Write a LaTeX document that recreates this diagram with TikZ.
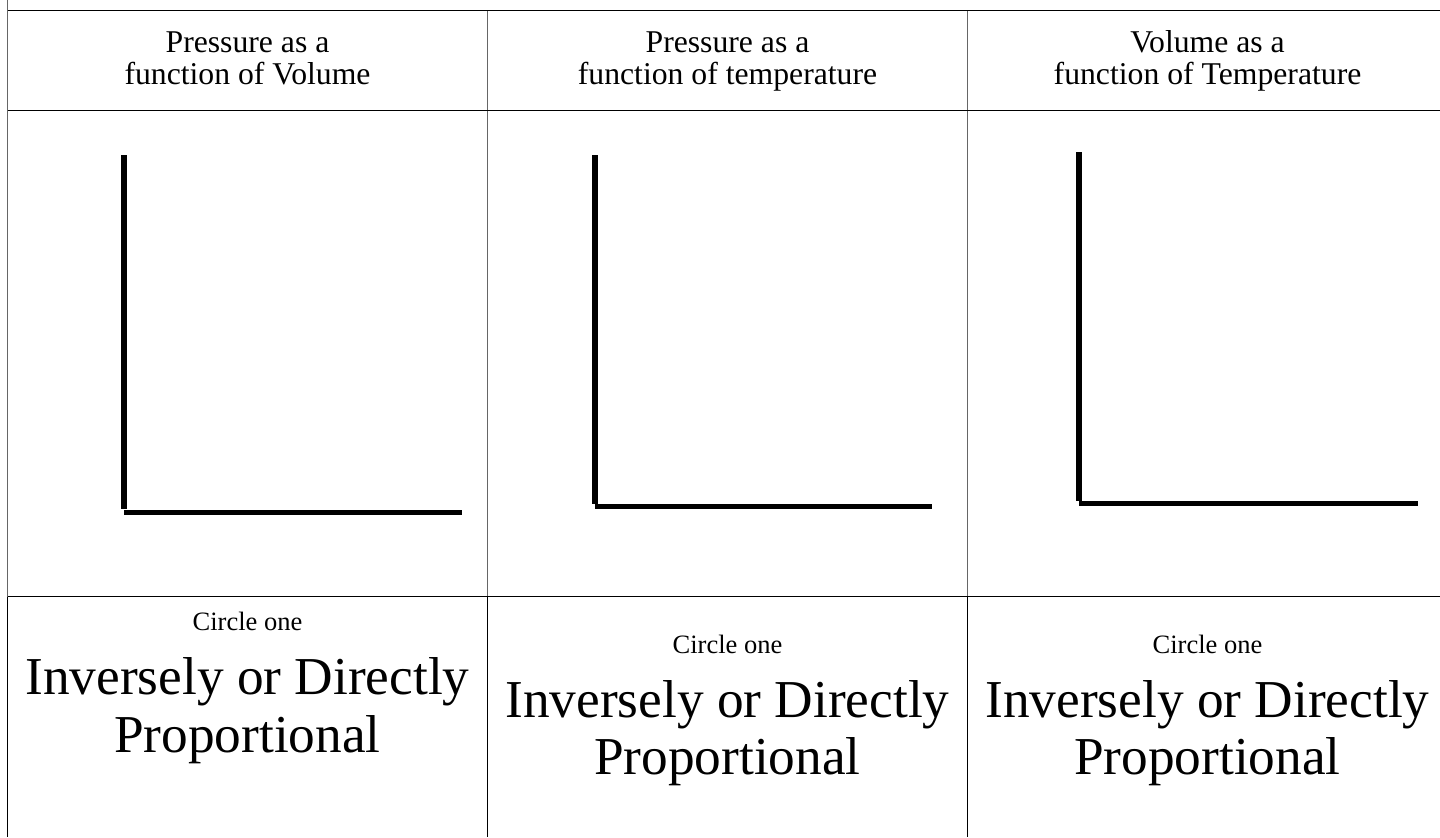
\documentclass[tikz,border=0pt]{standalone}
\usepackage{fontspec}
\setmainfont{Liberation Serif}
\begin{document}
\begin{tikzpicture}[x=0.5pt,y=-0.5pt,
  gridline/.style={line width=0.5pt,black},
  softline/.style={line width=0.5pt,black!60},
  axis/.style={line width=2.6pt,black,line cap=butt},
  head/.style={anchor=base,inner sep=0pt,font=\fontsize{15.85pt}{18pt}\selectfont},
  small/.style={anchor=base,inner sep=0pt,font=\fontsize{13.25pt}{15pt}\selectfont},
  big/.style={anchor=base,inner sep=0pt,font=\fontsize{26.65pt}{30pt}\selectfont}]
\useasboundingbox (0,0) rectangle (1440,837);
% table lines
\coordinate (L0) at (7.5,0);
\coordinate (L1) at (7.5,596.5);
\coordinate (L2) at (7.5,837);
\coordinate (A0) at (487.5,10.5);
\coordinate (A1) at (487.5,596.5);
\coordinate (A2) at (487.5,837);
\coordinate (B0) at (967.5,10.5);
\coordinate (B1) at (967.5,596.5);
\coordinate (B2) at (967.5,837);
\coordinate (H0a) at (7.5,10.5);   \coordinate (H0b) at (1440,10.5);
\coordinate (H1a) at (7.5,110.5);  \coordinate (H1b) at (1440,110.5);
\coordinate (H2a) at (7.5,596.5);  \coordinate (H2b) at (1440,596.5);
\draw[softline] (L0) -- (L1);
\draw[softline] (A0) -- (A1);
\draw[softline] (B0) -- (B1);
\draw[gridline] (L1) -- (L2);
\draw[gridline] (A1) -- (A2);
\draw[gridline] (B1) -- (B2);
\draw[gridline] (H0a) -- (H0b);
\draw[gridline] (H1a) -- (H1b);
\draw[gridline] (H2a) -- (H2b);
% headers
\node[head] (h1a) at (247.5,52) {Pressure as a};
\node[head] (h1b) at (247.5,84) {function of Volume};
\node[head] (h2a) at (727.5,52) {Pressure as a};
\node[head] (h2b) at (727.5,84) {function of temperature};
\node[head] (h3a) at (1207.5,52) {Volume as a};
\node[head] (h3b) at (1207.5,84) {function of Temperature};
% axes
\coordinate (g1t) at (124,155);  \coordinate (g1o) at (124,509);
\coordinate (g1a) at (124,512.5); \coordinate (g1r) at (462,512.5);
\coordinate (g2t) at (595,155);  \coordinate (g2o) at (595,504);
\coordinate (g2a) at (595,506.5); \coordinate (g2r) at (932,506.5);
\coordinate (g3t) at (1079,152); \coordinate (g3o) at (1079,501);
\coordinate (g3a) at (1079,503.5); \coordinate (g3r) at (1418,503.5);
\draw[axis] (g1t) -- (g1o);
\draw[axis] (g1a) -- (g1r);
\draw[axis] (g2t) -- (g2o);
\draw[axis] (g2a) -- (g2r);
\draw[axis] (g3t) -- (g3o);
\draw[axis] (g3a) -- (g3r);
% bottom row
\node[small] (c1) at (247.5,630) {Circle one};
\node[big] (i1) at (247.5,694) {Inversely or Directly};
\node[big] (p1) at (247.5,752) {Proportional};
\node[small] (c2) at (727.5,653) {Circle one};
\node[big] (i2) at (727.5,717) {Inversely or Directly};
\node[big] (p2) at (727.5,774) {Proportional};
\node[small] (c3) at (1207.5,653) {Circle one};
\node[big] (i3) at (1207.5,717) {Inversely or Directly};
\node[big] (p3) at (1207.5,774) {Proportional};
\end{tikzpicture}
\end{document}
